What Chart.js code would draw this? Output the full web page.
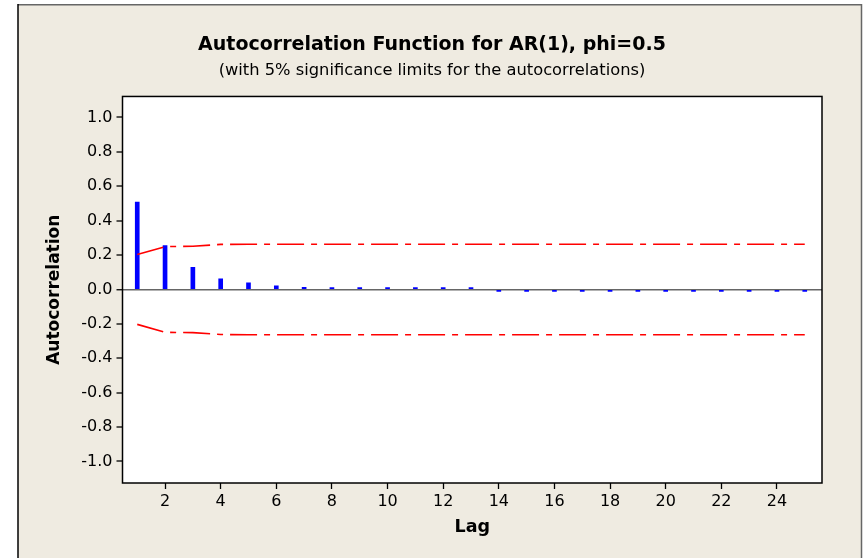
<!DOCTYPE html>
<html>
<head>
<meta charset="utf-8">
<script src="https://cdn.jsdelivr.net/npm/chart.js@4.4.1/dist/chart.umd.min.js"></script>
<style>
    body { margin: 0; background: #ffffff; }
    canvas { display: block; }
</style>
</head>
<body>
<canvas id="acf_chart" width="865" height="558"></canvas>
<script>
// lags and autocorrelations
var lags = [1, 2, 3, 4, 5, 6, 7, 8, 9, 10, 11, 12, 13, 14, 15, 16, 17, 18, 19, 20, 21, 22, 23, 24, 25];
var acf = [0.508, 0.255, 0.129, 0.062, 0.039, 0.021, 0.012, 0.005, 0.004, 0.003, 0.003, 0.002, 0.002,
    -0.008, -0.009, -0.010, -0.010, -0.011, -0.010, -0.010, -0.010, -0.010, -0.010, -0.009, -0.009];
// 5% significance limits (upper), lower is the mirror
var sigUpper = [0.203, 0.249, 0.251, 0.262, 0.263, 0.263, 0.263, 0.263, 0.263, 0.263, 0.263, 0.263, 0.263,
    0.263, 0.263, 0.263, 0.263, 0.263, 0.263, 0.263, 0.263, 0.263, 0.263, 0.263, 0.263];
var xTicks = [2, 4, 6, 8, 10, 12, 14, 16, 18, 20, 22, 24];
var yTicks = [-1.0, -0.8, -0.6, -0.4, -0.2, 0.0, 0.2, 0.4, 0.6, 0.8, 1.0];

var barData = lags.map(function (l, i) { return { x: l, y: acf[i] }; });
var upData = lags.map(function (l, i) { return { x: l, y: sigUpper[i] }; });
var lowData = lags.map(function (l, i) { return { x: l, y: -sigUpper[i] }; });

Chart.defaults.font.family = "'DejaVu Sans', sans-serif";
Chart.defaults.color = '#000';

// beige frame behind everything and the black box round the plot
var framePlugin = {
    id: 'frame',
    beforeDraw: function (chart) {
        var c = chart.ctx;
        c.save();
        c.fillStyle = '#efebe1';
        c.fillRect(18, 4, 844, 554);
        c.fillStyle = '#ffffff';
        var a = chart.chartArea;
        c.fillRect(a.left, a.top, a.right - a.left, a.bottom - a.top);
        c.lineWidth = 1.5;
        c.strokeStyle = '#666';
        c.beginPath();
        c.moveTo(18, 4.75); c.lineTo(862, 4.75);
        c.moveTo(861.5, 4); c.lineTo(861.5, 558);
        c.stroke();
        c.strokeStyle = '#000';
        c.beginPath();
        c.moveTo(18, 4); c.lineTo(18, 558);
        c.stroke();
        c.restore();
    },
    afterDraw: function (chart) {
        var c = chart.ctx;
        var a = chart.chartArea;
        c.save();
        c.strokeStyle = '#000';
        c.lineWidth = 1.5;
        c.strokeRect(a.left, a.top, a.right - a.left, a.bottom - a.top);
        c.restore();
    }
};

var ctx = document.getElementById("acf_chart");
var myChart = new Chart(ctx, {
    type: 'bar',
    data: {
        datasets: [{
            type: 'line',
            label: 'upper',
            data: upData,
            borderColor: '#ff0000',
            borderWidth: 1.6,
            borderDash: [27, 7, 6, 7],
            pointRadius: 0,
            tension: 0,
            fill: false
        }, {
            type: 'line',
            label: 'lower',
            data: lowData,
            borderColor: '#ff0000',
            borderWidth: 1.6,
            borderDash: [27, 7, 6, 7],
            pointRadius: 0,
            tension: 0,
            fill: false
        }, {
            type: 'bar',
            label: 'ACF',
            data: barData,
            backgroundColor: '#0000ff',
            barThickness: 4,
            minBarLength: 2
        }]
    },
    options: {
        responsive: false,
        animation: false,
        devicePixelRatio: 1,
        layout: {
            padding: { left: 18, top: 4, right: 19, bottom: 0 }
        },
        plugins: {
            legend: { display: false },
            tooltip: { enabled: false },
            title: {
                display: true,
                text: 'Autocorrelation Function for AR(1), phi=0.5',
                font: { size: 19, weight: 'bold' },
                color: '#000',
                padding: { top: 29.6, bottom: 5 }
            },
            subtitle: {
                display: true,
                text: '(with 5% significance limits for the autocorrelations)',
                font: { size: 16.3 },
                color: '#000',
                padding: { top: 0, bottom: 15.5 }
            }
        },
        scales: {
            x: {
                type: 'linear',
                offset: false,
                min: 0.47,
                max: 25.62,
                afterBuildTicks: function (scale) {
                    scale.ticks = xTicks.map(function (v) { return { value: v }; });
                },
                afterFit: function (scale) { scale.height = 75; },
                ticks: {
                    font: { size: 16 },
                    color: '#000',
                    padding: 3,
                    maxRotation: 0,
                    autoSkip: false
                },
                grid: {
                    offset: false,
                    drawOnChartArea: false,
                    tickLength: 6,
                    tickColor: '#000',
                    tickWidth: 1.3
                },
                border: { display: false },
                title: {
                    display: true,
                    text: 'Lag',
                    font: { size: 17.5, weight: 'bold' },
                    color: '#000',
                    padding: { top: 0, bottom: 20.5 }
                }
            },
            y: {
                min: -1.125,
                max: 1.122,
                afterBuildTicks: function (scale) {
                    scale.ticks = yTicks.map(function (v) { return { value: v }; });
                },
                afterFit: function (scale) { scale.width = 104.5; },
                ticks: {
                    font: { size: 16 },
                    color: '#000',
                    padding: 4,
                    callback: function (v) { return Number(v).toFixed(1); }
                },
                grid: {
                    drawOnChartArea: true,
                    color: function (c) { return (c.tick && c.tick.value === 0) ? '#666' : 'rgba(0,0,0,0)'; },
                    lineWidth: function (c) { return (c.tick && c.tick.value === 0) ? 1.5 : 0; },
                    tickLength: 6,
                    tickColor: '#000',
                    tickWidth: 1.3
                },
                border: { display: false },
                title: {
                    display: true,
                    text: 'Autocorrelation',
                    font: { size: 17, weight: 'bold' },
                    color: '#000',
                    padding: { top: 26.8 }
                }
            },
            // empty axis on the right, only reserves space so the titles centre like the original
            yRight: {
                position: 'right',
                display: true,
                min: -1.125,
                max: 1.122,
                afterFit: function (scale) { scale.width = 24; },
                ticks: { display: false },
                grid: { display: false, drawTicks: false },
                border: { display: false },
                title: { display: false }
            }
        }
    },
    plugins: [framePlugin]
});
</script>
</body>
</html>
